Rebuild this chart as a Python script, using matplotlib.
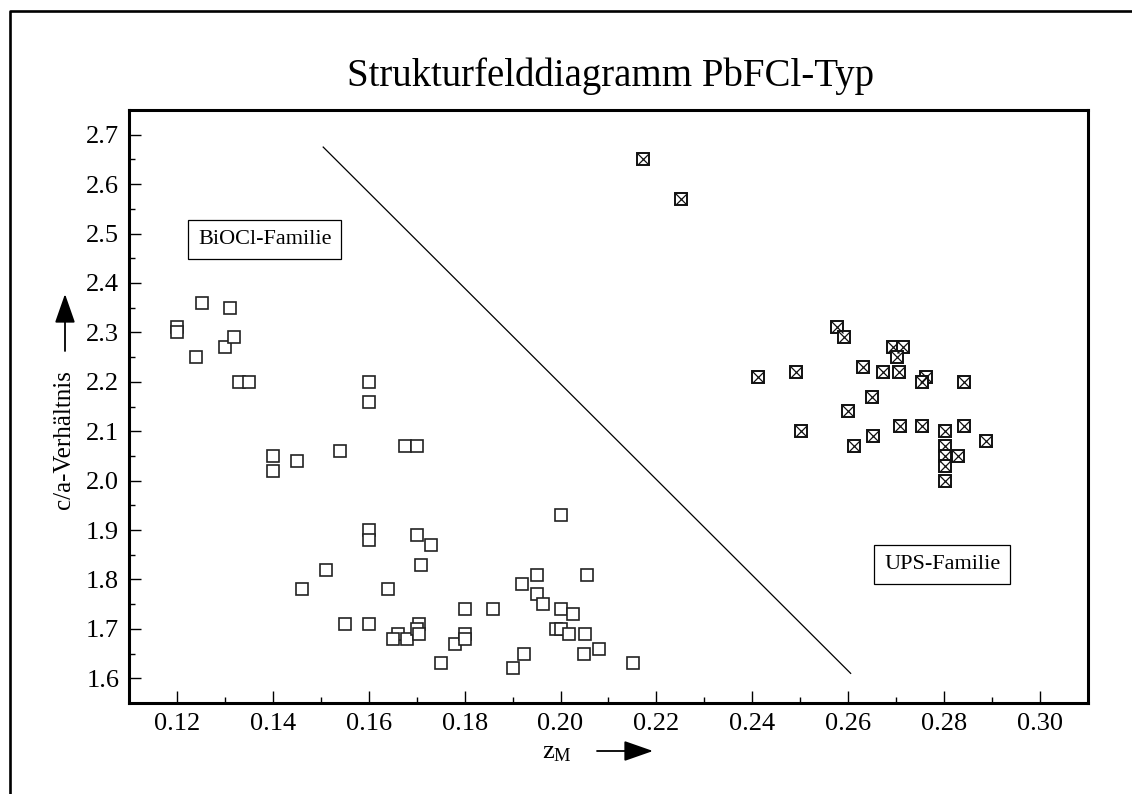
"""
Strukturfelddiagramm PbFCl-Typ: c/a ratio vs. z_M for BiOCl and UPS families.
Output: out.png
"""
import matplotlib

matplotlib.use("Agg")
import matplotlib.pyplot as plt  # noqa: E402
from matplotlib.lines import Line2D  # noqa: E402

plt.rcParams["font.family"] = ["Liberation Serif", "DejaVu Serif"]
plt.rcParams["mathtext.fontset"] = "custom"
plt.rcParams["mathtext.rm"] = "Liberation Serif"
plt.rcParams["mathtext.it"] = "Liberation Serif:italic"

# BiOCl family (open squares)
bi_z = [0.120, 0.120, 0.124, 0.1252, 0.130, 0.1311, 0.132, 0.1329, 0.1351,
        0.140, 0.140, 0.145, 0.154, 0.160, 0.160, 0.1675, 0.170,
        0.1461, 0.151, 0.155, 0.160, 0.160, 0.160, 0.164, 0.166, 0.165, 0.168,
        0.170, 0.1708, 0.173, 0.1704, 0.170, 0.1704, 0.175, 0.178,
        0.180, 0.180, 0.180, 0.186, 0.190, 0.1924, 0.192, 0.195, 0.195, 0.1963,
        0.1991, 0.200, 0.200, 0.200, 0.2017, 0.2025, 0.2049, 0.2052, 0.2055,
        0.2081, 0.2151]
bi_ca = [2.31, 2.30, 2.25, 2.36, 2.27, 2.35, 2.29, 2.20, 2.20,
         2.05, 2.02, 2.04, 2.06, 2.20, 2.16, 2.07, 2.07,
         1.78, 1.82, 1.71, 1.90, 1.88, 1.71, 1.78, 1.69, 1.68, 1.68,
         1.89, 1.83, 1.87, 1.71, 1.70, 1.69, 1.63, 1.67,
         1.74, 1.69, 1.68, 1.74, 1.62, 1.65, 1.79, 1.81, 1.77, 1.75,
         1.70, 1.70, 1.74, 1.93, 1.69, 1.73, 1.65, 1.69, 1.81,
         1.66, 1.63]

# UPS family (crossed squares)
ups_z = [0.2171, 0.2252, 0.2576, 0.2591, 0.2412, 0.2492, 0.2501, 0.2631,
         0.2693, 0.2714, 0.2702, 0.2672, 0.2705, 0.2762, 0.2753, 0.2842,
         0.2649, 0.2599, 0.2707, 0.2753, 0.2841, 0.2652, 0.2612,
         0.2802, 0.2802, 0.2802, 0.2829, 0.2802, 0.2802, 0.2887]
ups_ca = [2.65, 2.57, 2.31, 2.29, 2.21, 2.22, 2.10, 2.23,
          2.27, 2.27, 2.25, 2.22, 2.22, 2.21, 2.20, 2.20,
          2.17, 2.14, 2.11, 2.11, 2.11, 2.09, 2.07,
          2.10, 2.07, 2.05, 2.05, 2.03, 2.00, 2.08]

# border between the two families
border_z = [0.1505, 0.2605]
border_ca = [2.675, 1.61]

W, H = 1132, 794
fig = plt.figure(figsize=(W / 100, H / 100), dpi=100)
ax = fig.add_axes([129 / W, 1 - 703 / H, (1088 - 129) / W, (703 - 110) / H])

ax.plot(border_z, border_ca, color="black", lw=0.9)
ax.plot(bi_z, bi_ca, ls="none", marker="s", ms=8.6, mfc="white",
        mec="#222222", mew=1.2)
ax.plot(ups_z, ups_ca, ls="none", marker="s", ms=8.0, mfc="white",
        mec="#111111", mew=1.4)
ax.plot(ups_z, ups_ca, ls="none", marker="x", ms=8.0, mec="#111111", mew=0.9)

ax.text(0.1383, 2.488, "BiOCl-Familie", fontsize=16, ha="center", va="center",
        bbox=dict(boxstyle="square,pad=0.45", fc="white", ec="black", lw=0.9))
ax.text(0.2796, 1.830, "UPS-Familie", fontsize=16, ha="center", va="center",
        bbox=dict(boxstyle="square,pad=0.45", fc="white", ec="black", lw=0.9))

ax.set_xlim(0.11, 0.31)
ax.set_ylim(1.55, 2.75)
ax.set_xticks([0.12, 0.14, 0.16, 0.18, 0.20, 0.22, 0.24, 0.26, 0.28, 0.30])
ax.set_xticks([0.13, 0.15, 0.17, 0.19, 0.21, 0.23, 0.25, 0.27, 0.29], minor=True)
ax.set_xticklabels([f"{v:.2f}" for v in ax.get_xticks()])
ax.set_yticks([1.6, 1.7, 1.8, 1.9, 2.0, 2.1, 2.2, 2.3, 2.4, 2.5, 2.6, 2.7])
ax.set_yticks([1.65, 1.75, 1.85, 1.95, 2.05, 2.15, 2.25, 2.35, 2.45, 2.55,
               2.65], minor=True)
ax.set_yticklabels([f"{v:.1f}" for v in ax.get_yticks()])
ax.tick_params(which="both", direction="in", labelsize=19, width=1.0,
               top=False, right=False)
ax.tick_params(which="major", length=8.5, pad=7)
ax.tick_params(which="minor", length=4.5)
for s in ax.spines.values():
    s.set_linewidth(2.2)

# axis labels with arrows, title, outer frame
fig.text(64 / W, 1 - 440 / H, "c/a-Verhältnis", rotation=90, fontsize=18,
         ha="center", va="center")
fig.text(557 / W, 1 - 753 / H, r"z$_{\mathrm{M}}$", fontsize=19,
         ha="center", va="center")
arrow = dict(arrowstyle="-|>,head_length=1.0,head_width=0.35", color="black",
             lw=1.3, mutation_scale=18, shrinkA=0, shrinkB=0)
fig.add_artist(matplotlib.patches.FancyArrowPatch(
    (597 / W, 1 - 751 / H), (653 / W, 1 - 751 / H),
    transform=fig.transFigure, **arrow))
fig.add_artist(matplotlib.patches.FancyArrowPatch(
    (65 / W, 1 - 351 / H), (65 / W, 1 - 294 / H),
    transform=fig.transFigure, **arrow))

fig.text(611 / W, 1 - 76 / H, "Strukturfelddiagramm PbFCl-Typ", fontsize=28,
         ha="center", va="center")
fig.add_artist(Line2D([10 / W, 10 / W, 1.0], [0.0, 1 - 11 / H, 1 - 11 / H],
                      transform=fig.transFigure, color="black", lw=1.9))

fig.savefig("out.png", dpi=100)
